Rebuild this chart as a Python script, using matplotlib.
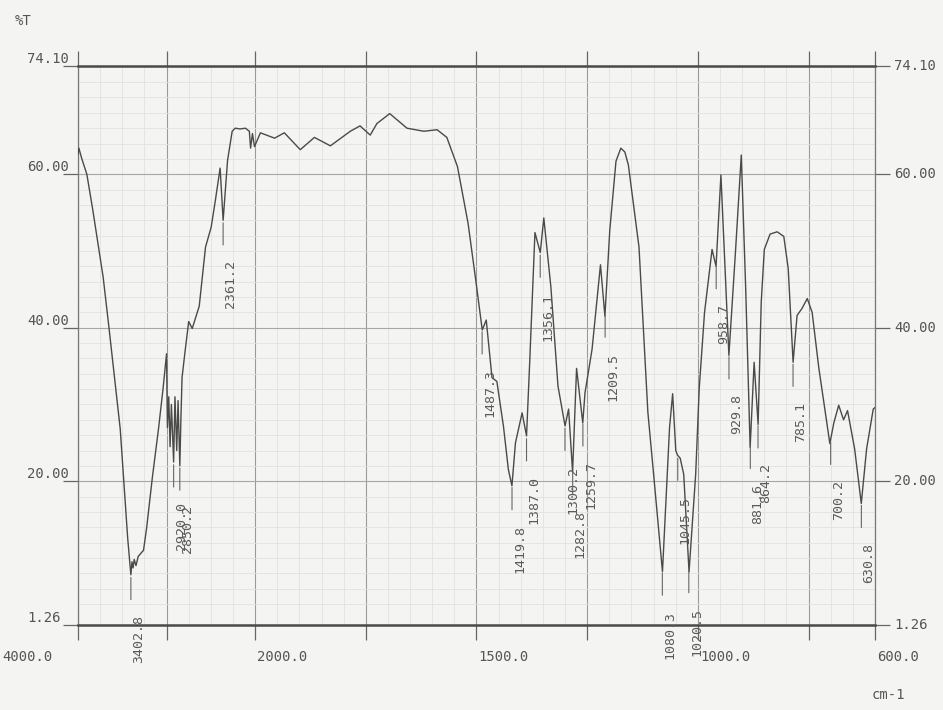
import numpy as np
import matplotlib
matplotlib.use("Agg")
import matplotlib.pyplot as plt

# IR spectrum (cm-1, %T)
wavenumber = [4000, 3990, 3959, 3900, 3835, 3716, 3651, 3523, 3439, 3403, 3390, 3378, 3365, 3345,
              3320, 3290, 3260, 3225, 3160, 3091, 3040, 3000, 2990, 2975, 2960, 2945, 2920, 2905,
              2885, 2870, 2850, 2838, 2825, 2790, 2750, 2710, 2631, 2560, 2496, 2450, 2395, 2361,
              2311, 2259, 2225, 2170, 2110, 2065, 2051, 2030, 2007, 1988, 1956, 1934, 1898, 1866,
              1830, 1785, 1763, 1740, 1725, 1696, 1657, 1619, 1589, 1567, 1543, 1519, 1501, 1487,
              1478, 1465, 1454, 1439, 1428, 1420, 1412, 1397, 1387, 1380, 1368, 1356, 1348, 1332,
              1316, 1300, 1292, 1283, 1274, 1260, 1255, 1239, 1220, 1210, 1199, 1185, 1174, 1165,
              1157, 1133, 1113, 1100, 1080, 1070, 1064, 1057, 1050, 1046, 1040, 1032, 1020, 1005,
              997, 985, 968, 959, 948, 930, 915, 902, 892, 882, 873, 864, 857, 850, 837, 821, 806,
              796, 785, 776, 765, 753, 742, 727, 702, 693, 682, 671, 662, 646, 631, 619, 604, 600]
transmittance = [62.6, 63.4, 62.1, 60.0, 55.5, 46.6, 40.1, 26.8, 12.6, 7.8, 9.5, 8.7, 9.8, 9.0,
                 10.2, 10.6, 11.0, 13.9, 20.5, 26.8, 32.0, 36.6, 27.0, 31.0, 24.5, 30.0, 22.5, 31.0,
                 24.0, 30.5, 22.0, 28.0, 33.5, 37.0, 40.8, 39.9, 42.8, 50.5, 53.1, 56.5, 60.8, 54.0,
                 61.8, 65.6, 66.0, 65.9, 66.0, 65.6, 63.4, 65.3, 63.6, 65.4, 64.7, 65.4, 63.2, 64.8,
                 63.7, 65.6, 66.3, 65.1, 66.6, 67.9, 66.0, 65.6, 65.8, 64.8, 61.0, 53.6, 45.9, 39.7,
                 41.0, 33.5, 33.0, 27.1, 21.5, 19.4, 25.0, 28.9, 25.9, 35.3, 52.4, 49.8, 54.3, 45.3,
                 32.4, 27.2, 29.4, 21.2, 34.7, 27.6, 31.5, 37.2, 48.2, 41.5, 52.7, 61.7, 63.4, 62.9,
                 61.2, 50.5, 29.0, 20.9, 8.2, 20.0, 27.0, 31.4, 24.0, 23.4, 23.0, 20.9, 8.2, 20.9,
                 32.1, 42.0, 50.2, 48.0, 59.9, 36.4, 50.0, 62.5, 45.0, 24.4, 35.5, 27.4, 43.3, 50.2,
                 52.2, 52.5, 51.9, 47.7, 35.5, 41.6, 42.5, 43.8, 42.0, 34.8, 24.9, 27.6, 29.9, 28.0,
                 29.2, 24.2, 17.1, 24.2, 29.4, 29.6]

peak_labels = ["3402.8", "2920.0", "2850.2", "2361.2", "1487.3", "1419.8", "1387.0", "1356.1",
               "1300.2", "1282.8", "1259.7", "1209.5", "1080.3", "1045.5", "1020.5", "958.7",
               "929.8", "881.6", "864.2", "785.1", "700.2", "630.8"]

x_major = [4000, 3000, 2000, 1750, 1500, 1250, 1000, 750, 600]
x_labeled = [4000, 2000, 1500, 1000, 600]
y_ticks = [1.26, 20, 40, 60, 74.10]
y_ticklabels = ["1.26", "20.00", "40.00", "60.00", "74.10"]

assert len(wavenumber) == len(transmittance)

paper = "#f4f4f2"
ink = "#4a4a4a"
mono = "DejaVu Sans Mono"


# 4000-2000 is drawn at one fifth of the scale of 2000-600
def fwd(w):
    w = np.asarray(w, dtype=float)
    return np.where(w <= 2000, w, 2000 + (w - 2000) * 0.2)


def inv(u):
    u = np.asarray(u, dtype=float)
    return np.where(u <= 2000, u, 2000 + (u - 2000) * 5.0)


fig = plt.figure(figsize=(9.43, 7.10), dpi=100, facecolor=paper)
ax = fig.add_axes([0.0827, 0.1197, 0.8452, 0.7873], facecolor=paper)
ax.set_xscale("function", functions=(fwd, inv))
ax.set_xlim(4000, 600)
ax.set_ylim(1.26, 74.10)

# chart paper grid
minor_x = [3750, 3500, 3250, 2750, 2500, 2250] + [v for v in range(650, 2000, 50) if v not in x_major]
minor_y = [v for v in range(4, 74, 2) if v not in (20, 40, 60)]
ax.set_xticks(x_major)
ax.set_xticks(minor_x, minor=True)
ax.set_yticks(y_ticks)
ax.set_yticks(minor_y, minor=True)
ax.grid(which="minor", color="#e2e2e0", lw=0.6)
ax.grid(which="major", axis="x", color="#9a9a9a", lw=0.8)
ax.grid(which="major", axis="y", color="#a8a8a8", lw=0.8)
ax.set_axisbelow(True)
ax.tick_params(which="minor", length=0)
ax.tick_params(which="major", direction="out", length=11, width=0.9, color="#666666",
               top=True, right=True, labelbottom=False, labelleft=False)
for side in ("top", "bottom"):
    ax.spines[side].set_linewidth(1.8)
    ax.spines[side].set_color("#4a4a4a")
for side in ("left", "right"):
    ax.spines[side].set_linewidth(0.9)
    ax.spines[side].set_color("#777777")

ax.plot(wavenumber, transmittance, color=ink, lw=1.0, zorder=3)

# axis numbers
txt = dict(family=mono, fontsize=10, color="#555555")
for v, s in zip(y_ticks, y_ticklabels):
    ax.annotate(s, xy=(0, v), xycoords=("axes fraction", "data"), xytext=(-36.5, 0),
                textcoords="offset points", ha="left", va="bottom", **txt)
    ax.annotate(s, xy=(1, v), xycoords=("axes fraction", "data"), xytext=(14, 0),
                textcoords="offset points", ha="left", va="center", **txt)
for v in x_labeled:
    dx, ha = (-18.5, "right") if v == 4000 else (1.5, "left")
    ax.annotate(f"{v:.1f}", xy=(v, 0), xycoords=("data", "axes fraction"), xytext=(dx, -23),
                textcoords="offset points", ha=ha, va="center", **txt)

fig.text(15 / 943, 1 - 21 / 710, "%T", ha="left", va="center", **txt)
fig.text(872 / 943, 1 - 695 / 710, "cm-1", ha="left", va="center", **txt)

# peak picks with leader lines
wn_inc = np.array(wavenumber[::-1], dtype=float)
t_inc = np.array(transmittance[::-1], dtype=float)
for s in peak_labels:
    w = float(s)
    t = float(np.interp(w, wn_inc, t_inc))
    ax.annotate("", xy=(w, t), xytext=(0, -18), textcoords="offset points",
                arrowprops=dict(arrowstyle="-", shrinkA=0, shrinkB=2, lw=0.8, color="#666666"))
    ax.annotate(s, xy=(w, t), xytext=(5.5, -29), textcoords="offset points", rotation=90,
                ha="center", va="top", family=mono, fontsize=9.5, color="#5a5a5a")

fig.savefig("out.png", dpi=100, facecolor=paper)
